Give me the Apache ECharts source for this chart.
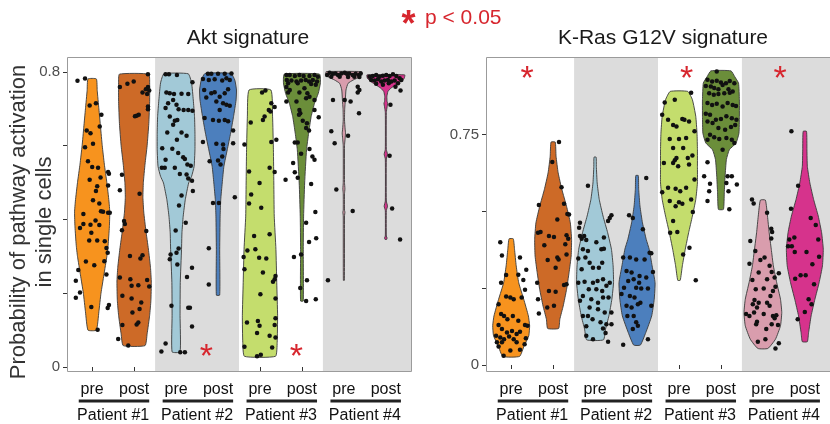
<!DOCTYPE html>
<html>
<head>
<meta charset="utf-8">
<script src="https://cdn.jsdelivr.net/npm/echarts@6/dist/echarts.min.js"></script>
<style>
  html, body { margin: 0; padding: 0; background: #fff; }
  #chart { width: 830px; height: 424px; }
</style>
</head>
<body>
<div id="chart"></div>
<script>
// ---- categories ----
const groupLabels = ['pre', 'post', 'pre', 'post', 'pre', 'post', 'pre', 'post'];
const patientLabels = ['Patient #1', 'Patient #2', 'Patient #3', 'Patient #4'];
const violinColors = ['#F7931E', '#CD6A27', '#A2C9D7', '#4C7FBD', '#C4DD6D', '#6B8E3A', '#D99DAD', '#D6338C'];
const shadedPatients = [[2.5, 4.5], [6.5, 8.6]];

// ---- Akt signature: violin outlines [probability, half width] ----
const aktShape1 = [[0.781,0.10],[0.75,0.12],[0.70,0.16],[0.65,0.20],[0.60,0.24],[0.55,0.29],[0.50,0.35],[0.45,0.40],[0.42,0.42],[0.38,0.41],[0.33,0.38],[0.30,0.35],[0.25,0.28],[0.20,0.21],[0.15,0.16],[0.10,0.10]];
const aktShape2 = [[0.794,0.35],[0.77,0.37],[0.72,0.37],[0.66,0.35],[0.60,0.31],[0.55,0.26],[0.50,0.22],[0.46,0.21],[0.42,0.23],[0.37,0.28],[0.32,0.34],[0.27,0.39],[0.23,0.41],[0.18,0.40],[0.14,0.37],[0.09,0.31],[0.058,0.26]];
const aktShape3 = [[0.795,0.29],[0.77,0.37],[0.724,0.41],[0.679,0.44],[0.634,0.45],[0.589,0.45],[0.544,0.43],[0.517,0.37],[0.499,0.30],[0.454,0.22],[0.409,0.17],[0.364,0.14],[0.319,0.13],[0.229,0.10],[0.139,0.095],[0.041,0.095]];
const aktShape4 = [[0.796,0.31],[0.778,0.40],[0.751,0.44],[0.724,0.43],[0.679,0.37],[0.634,0.30],[0.589,0.22],[0.544,0.14],[0.499,0.10],[0.454,0.065],[0.409,0.05],[0.319,0.04],[0.195,0.04]];
const aktShape5 = [[0.751,0.26],[0.68,0.30],[0.589,0.32],[0.499,0.33],[0.409,0.34],[0.319,0.38],[0.229,0.40],[0.139,0.42],[0.067,0.41],[0.029,0.37]];
const aktShape6 = [[0.794,0.42],[0.77,0.44],[0.742,0.39],[0.715,0.30],[0.679,0.22],[0.634,0.16],[0.589,0.11],[0.499,0.065],[0.409,0.04],[0.319,0.032],[0.179,0.032]];
const aktShape7 = [[0.801,0.42],[0.795,0.43],[0.787,0.38],[0.778,0.22],[0.769,0.10],[0.751,0.05],[0.724,0.035],[0.70,0.02],[0.67,0.015],[0.645,0.03],[0.634,0.04],[0.62,0.03],[0.60,0.015],[0.50,0.015],[0.483,0.025],[0.47,0.015],[0.425,0.015],[0.42,0.025],[0.41,0.015],[0.235,0.012]];
const aktShape8 = [[0.792,0.45],[0.783,0.44],[0.774,0.36],[0.765,0.24],[0.756,0.12],[0.747,0.05],[0.733,0.025],[0.72,0.03],[0.715,0.045],[0.705,0.03],[0.69,0.012],[0.59,0.012],[0.577,0.04],[0.564,0.012],[0.45,0.012],[0.436,0.04],[0.424,0.012],[0.355,0.012],[0.35,0.03],[0.346,0.02]];

// ---- Akt signature: single cells [jitter, probability] ----
const aktCells1 = [[-0.35,0.776],[-0.17,0.782],[-0.06,0.709],[0.09,0.715],[0.22,0.684],[0.18,0.652],[-0.13,0.641],[-0.04,0.634],[0.02,0.605],[-0.17,0.596],[-0.10,0.558],[0.00,0.542],[0.14,0.540],[-0.06,0.508],[0.20,0.514],[0.38,0.529],[0.40,0.524],[0.12,0.490],[0.38,0.492],[0.09,0.477],[0.02,0.452],[0.17,0.443],[-0.21,0.415],[0.21,0.422],[0.26,0.421],[0.38,0.418],[0.42,0.418],[-0.21,0.388],[-0.04,0.386],[0.08,0.397],[0.17,0.385],[-0.29,0.377],[-0.02,0.364],[-0.07,0.343],[0.12,0.343],[0.30,0.341],[0.34,0.323],[0.37,0.310],[-0.15,0.286],[0.05,0.276],[0.29,0.287],[-0.33,0.263],[0.34,0.251],[-0.39,0.234],[-0.29,0.202],[-0.39,0.188],[-0.02,0.163],[0.40,0.168],[0.37,0.160],[0.13,0.101]];
const aktCells2 = [[0.33,0.794],[-0.34,0.759],[-0.16,0.768],[-0.01,0.774],[0.33,0.759],[0.28,0.753],[0.20,0.744],[0.36,0.750],[0.31,0.740],[0.33,0.706],[0.33,0.699],[0.06,0.681],[0.11,0.684],[0.02,0.680],[-0.29,0.521],[-0.34,0.479],[0.13,0.470],[-0.24,0.396],[-0.22,0.388],[-0.29,0.371],[0.29,0.369],[-0.10,0.301],[0.15,0.294],[0.20,0.303],[-0.34,0.243],[-0.09,0.238],[0.31,0.236],[0.10,0.222],[-0.06,0.220],[0.36,0.218],[-0.28,0.193],[-0.06,0.186],[0.17,0.175],[0.13,0.157],[-0.04,0.148],[-0.28,0.114],[0.06,0.115],[0.10,0.121],[-0.38,0.076],[-0.14,0.058]];
const aktCells3 = [[-0.25,0.794],[-0.17,0.794],[0.02,0.792],[0.39,0.772],[-0.23,0.744],[-0.15,0.742],[-0.05,0.740],[0.13,0.741],[0.29,0.740],[-0.07,0.724],[-0.19,0.715],[0.01,0.711],[0.06,0.699],[0.18,0.697],[0.29,0.697],[0.39,0.695],[-0.25,0.702],[-0.15,0.679],[-0.03,0.668],[0.03,0.670],[-0.07,0.657],[-0.21,0.636],[0.13,0.636],[0.25,0.627],[0.02,0.616],[-0.33,0.593],[-0.09,0.592],[0.05,0.580],[-0.25,0.562],[0.17,0.569],[0.21,0.564],[-0.03,0.540],[-0.34,0.540],[-0.27,0.540],[0.09,0.523],[0.27,0.549],[0.35,0.546],[0.25,0.522],[0.29,0.511],[0.38,0.505],[0.40,0.477],[0.13,0.465],[0.07,0.438],[0.23,0.391],[-0.01,0.370],[0.01,0.310],[-0.13,0.305],[0.06,0.321],[-0.15,0.292],[0.03,0.278],[0.38,0.269],[0.26,0.244],[-0.11,0.166],[0.33,0.161],[0.29,0.161],[0.38,0.110],[-0.25,0.064],[-0.35,0.042],[0.10,0.040],[0.21,0.040]];
const aktCells4 = [[-0.24,0.795],[-0.16,0.795],[0.00,0.795],[0.16,0.795],[0.32,0.796],[-0.36,0.781],[-0.22,0.778],[-0.08,0.780],[0.10,0.777],[0.20,0.783],[0.28,0.778],[-0.33,0.751],[-0.28,0.731],[-0.16,0.742],[-0.08,0.745],[0.04,0.733],[0.16,0.742],[0.24,0.753],[-0.04,0.720],[0.12,0.715],[0.20,0.711],[0.28,0.708],[0.04,0.697],[-0.32,0.675],[-0.12,0.670],[0.02,0.668],[0.16,0.670],[0.24,0.666],[0.36,0.641],[-0.36,0.610],[-0.04,0.605],[0.12,0.603],[0.36,0.607],[-0.20,0.558],[0.00,0.560],[0.10,0.571],[0.13,0.591],[0.06,0.549],[-0.12,0.445],[0.02,0.445],[0.40,0.460],[-0.22,0.322],[-0.22,0.224]];
const aktCells5 = [[0.05,0.744],[0.13,0.750],[0.27,0.715],[0.35,0.705],[0.21,0.697],[0.25,0.693],[0.11,0.679],[0.07,0.670],[-0.22,0.663],[0.27,0.610],[0.39,0.616],[-0.37,0.603],[-0.26,0.530],[0.23,0.540],[0.35,0.529],[-0.01,0.499],[-0.21,0.468],[-0.26,0.443],[0.03,0.432],[-0.14,0.355],[0.23,0.360],[-0.30,0.316],[-0.11,0.319],[-0.39,0.298],[-0.02,0.296],[0.15,0.294],[-0.37,0.265],[0.07,0.256],[0.37,0.247],[0.35,0.238],[0.31,0.231],[0.01,0.197],[0.37,0.186],[-0.31,0.121],[-0.05,0.125],[-0.01,0.112],[0.35,0.114],[-0.07,0.092],[0.23,0.085],[0.37,0.080],[0.37,0.132],[-0.37,0.055],[0.29,0.053],[-0.07,0.029],[0.02,0.033]];
const aktCells6 = [[-0.37,0.792],[-0.29,0.792],[-0.17,0.789],[-0.06,0.792],[0.04,0.789],[0.18,0.789],[0.30,0.792],[0.38,0.787],[-0.36,0.778],[-0.25,0.777],[-0.13,0.774],[-0.02,0.777],[0.09,0.778],[0.17,0.774],[0.26,0.778],[0.36,0.774],[-0.33,0.769],[-0.10,0.769],[0.22,0.767],[0.33,0.765],[-0.37,0.759],[-0.29,0.751],[0.06,0.756],[0.13,0.742],[-0.06,0.744],[-0.33,0.744],[0.18,0.733],[-0.13,0.720],[0.10,0.729],[0.30,0.724],[-0.37,0.720],[-0.06,0.697],[-0.04,0.688],[-0.07,0.684],[0.30,0.697],[0.40,0.677],[0.02,0.668],[0.12,0.661],[0.17,0.641],[0.10,0.648],[-0.17,0.609],[-0.10,0.609],[0.18,0.591],[-0.02,0.578],[0.25,0.571],[0.30,0.562],[-0.21,0.553],[-0.17,0.528],[-0.39,0.508],[-0.10,0.513],[0.22,0.496],[0.32,0.420],[0.10,0.391],[0.34,0.349],[0.17,0.339],[-0.19,0.298],[-0.02,0.305],[0.12,0.235],[-0.04,0.214],[0.10,0.179],[0.33,0.184]];
const aktCells7 = [[-0.40,0.792],[-0.34,0.798],[-0.26,0.795],[-0.20,0.796],[-0.14,0.792],[-0.06,0.796],[0.02,0.798],[0.07,0.795],[0.13,0.796],[0.21,0.792],[0.28,0.795],[0.36,0.792],[0.40,0.796],[-0.30,0.787],[-0.10,0.787],[0.10,0.786],[0.25,0.787],[0.37,0.786],[0.33,0.760],[0.37,0.751],[0.33,0.744],[-0.26,0.724],[0.02,0.724],[0.16,0.720],[0.36,0.688],[-0.30,0.639],[0.10,0.627],[-0.22,0.607],[-0.18,0.481],[0.21,0.423],[-0.38,0.235]];
const aktCells8 = [[-0.39,0.787],[-0.31,0.789],[-0.23,0.792],[-0.15,0.787],[-0.07,0.790],[0.01,0.792],[0.09,0.789],[0.17,0.794],[0.25,0.789],[0.33,0.783],[0.37,0.778],[-0.35,0.778],[-0.27,0.777],[-0.19,0.780],[-0.11,0.774],[-0.03,0.777],[0.05,0.778],[0.13,0.774],[0.21,0.777],[0.29,0.769],[-0.23,0.768],[-0.07,0.765],[0.07,0.769],[0.23,0.760],[0.35,0.750],[0.11,0.711],[0.09,0.573],[0.15,0.430],[0.34,0.346]];

// ---- K-Ras G12V signature: violin outlines [probability, half width] ----
const krasShape1 = [[0.411,0.05],[0.377,0.08],[0.323,0.12],[0.268,0.18],[0.214,0.30],[0.16,0.41],[0.128,0.44],[0.095,0.42],[0.063,0.31],[0.028,0.20]];
const krasShape2 = [[0.726,0.05],[0.68,0.07],[0.626,0.12],[0.571,0.21],[0.517,0.32],[0.463,0.41],[0.409,0.44],[0.355,0.43],[0.301,0.38],[0.246,0.32],[0.192,0.24],[0.149,0.16],[0.119,0.13]];
const krasShape3 = [[0.677,0.025],[0.647,0.03],[0.593,0.05],[0.539,0.10],[0.485,0.19],[0.431,0.30],[0.377,0.39],[0.323,0.43],[0.268,0.44],[0.214,0.40],[0.16,0.33],[0.117,0.25],[0.082,0.20]];
const krasShape4 = [[0.617,0.03],[0.572,0.04],[0.518,0.07],[0.463,0.13],[0.409,0.22],[0.377,0.29],[0.323,0.36],[0.268,0.43],[0.214,0.41],[0.16,0.35],[0.106,0.21],[0.065,0.08]];
const krasShape5 = [[0.891,0.21],[0.864,0.32],[0.81,0.40],[0.755,0.43],[0.701,0.44],[0.647,0.44],[0.593,0.44],[0.539,0.40],[0.485,0.32],[0.431,0.23],[0.377,0.15],[0.323,0.08],[0.276,0.03]];
const krasShape6 = [[0.958,0.24],[0.939,0.33],[0.918,0.42],[0.864,0.44],[0.81,0.44],[0.755,0.43],[0.723,0.36],[0.701,0.20],[0.669,0.13],[0.615,0.10],[0.561,0.08],[0.507,0.06]];
const krasShape7 = [[0.537,0.06],[0.485,0.11],[0.431,0.15],[0.377,0.20],[0.323,0.25],[0.268,0.33],[0.214,0.42],[0.171,0.45],[0.128,0.42],[0.084,0.30],[0.054,0.12]];
const krasShape8 = [[0.761,0.04],[0.701,0.05],[0.647,0.06],[0.593,0.12],[0.539,0.21],[0.485,0.32],[0.431,0.40],[0.377,0.44],[0.323,0.42],[0.268,0.34],[0.214,0.24],[0.16,0.15],[0.106,0.09],[0.076,0.06]];

// ---- K-Ras G12V signature: single cells [jitter, probability] ----
const krasCells1 = [[-0.26,0.400],[-0.22,0.357],[0.21,0.350],[0.36,0.310],[-0.12,0.293],[0.17,0.294],[0.29,0.277],[-0.24,0.268],[0.33,0.245],[-0.12,0.223],[-0.02,0.220],[0.25,0.220],[0.06,0.214],[-0.30,0.198],[-0.24,0.166],[-0.17,0.160],[-0.09,0.149],[0.04,0.160],[0.17,0.144],[0.33,0.130],[0.39,0.128],[-0.30,0.130],[-0.22,0.117],[-0.10,0.106],[0.02,0.111],[0.13,0.101],[0.21,0.108],[-0.36,0.095],[-0.26,0.090],[-0.17,0.084],[-0.05,0.093],[0.06,0.084],[0.35,0.087],[-0.34,0.074],[-0.22,0.074],[0.13,0.074],[0.32,0.068],[-0.02,0.047],[-0.30,0.060],[-0.18,0.030],[0.21,0.050]];
const krasCells2 = [[0.14,0.726],[-0.02,0.661],[0.20,0.579],[-0.34,0.521],[0.26,0.525],[0.34,0.492],[0.38,0.490],[0.10,0.474],[-0.36,0.431],[-0.30,0.433],[-0.10,0.420],[0.02,0.417],[0.32,0.423],[0.36,0.411],[-0.21,0.390],[0.29,0.393],[0.10,0.350],[0.13,0.344],[-0.13,0.342],[0.06,0.317],[0.32,0.360],[-0.38,0.268],[-0.10,0.241],[0.06,0.239],[0.26,0.261],[0.32,0.263],[-0.36,0.214],[-0.14,0.187],[0.02,0.193],[-0.34,0.168]];
const krasCells3 = [[-0.17,0.584],[0.39,0.488],[0.35,0.479],[0.31,0.469],[-0.36,0.463],[-0.38,0.447],[-0.36,0.420],[-0.32,0.411],[-0.26,0.420],[-0.21,0.407],[0.03,0.400],[0.21,0.415],[-0.29,0.377],[-0.17,0.371],[-0.40,0.347],[-0.23,0.350],[0.15,0.377],[0.21,0.379],[-0.13,0.333],[0.17,0.333],[-0.05,0.317],[0.09,0.317],[-0.32,0.312],[-0.40,0.268],[-0.25,0.271],[-0.05,0.268],[0.06,0.274],[0.19,0.279],[0.35,0.268],[-0.15,0.247],[0.03,0.247],[0.17,0.241],[0.27,0.258],[-0.29,0.225],[-0.36,0.209],[-0.09,0.214],[0.07,0.203],[0.19,0.220],[0.32,0.220],[-0.13,0.187],[0.07,0.182],[0.23,0.171],[0.39,0.171],[-0.29,0.160],[-0.17,0.160],[-0.06,0.149],[0.13,0.139],[0.27,0.133],[0.39,0.133],[-0.21,0.095],[-0.05,0.084],[0.25,0.104],[0.31,0.076],[-0.21,0.126],[0.19,0.119]];
const krasCells4 = [[0.22,0.609],[0.14,0.442],[-0.19,0.488],[-0.10,0.479],[0.30,0.366],[0.34,0.364],[0.18,0.344],[-0.33,0.350],[-0.17,0.350],[-0.02,0.344],[-0.25,0.306],[-0.13,0.301],[0.06,0.290],[0.38,0.303],[0.22,0.285],[-0.21,0.274],[-0.08,0.279],[0.05,0.268],[-0.37,0.231],[-0.31,0.252],[-0.02,0.252],[0.10,0.249],[0.26,0.249],[-0.17,0.225],[-0.06,0.220],[0.08,0.203],[0.34,0.193],[-0.25,0.193],[-0.13,0.187],[0.02,0.198],[-0.23,0.160],[-0.08,0.160],[-0.02,0.139],[0.02,0.128],[-0.10,0.117],[0.26,0.084],[-0.33,0.066]];
const krasCells5 = [[0.29,0.887],[-0.34,0.855],[-0.10,0.864],[-0.40,0.815],[-0.26,0.799],[-0.14,0.782],[-0.06,0.777],[0.08,0.801],[0.13,0.799],[0.24,0.793],[0.37,0.761],[-0.22,0.736],[0.00,0.736],[0.17,0.739],[-0.14,0.707],[0.10,0.707],[0.32,0.682],[0.21,0.674],[-0.06,0.674],[-0.10,0.667],[-0.14,0.658],[-0.36,0.658],[-0.02,0.647],[0.24,0.653],[0.37,0.604],[-0.26,0.577],[-0.08,0.574],[0.03,0.566],[0.17,0.577],[-0.40,0.563],[-0.22,0.534],[0.00,0.530],[0.08,0.525],[-0.08,0.517],[0.29,0.539],[0.33,0.498],[-0.14,0.469],[-0.21,0.431],[-0.04,0.433],[0.25,0.382],[0.10,0.360],[0.40,0.276]];
const krasCells6 = [[-0.10,0.956],[-0.32,0.929],[-0.21,0.923],[-0.10,0.926],[0.00,0.920],[0.12,0.918],[0.21,0.925],[0.32,0.918],[-0.36,0.909],[-0.24,0.907],[-0.16,0.902],[-0.06,0.898],[0.04,0.912],[0.18,0.898],[0.28,0.891],[-0.28,0.885],[-0.17,0.880],[-0.06,0.883],[0.08,0.885],[0.21,0.887],[-0.32,0.853],[-0.21,0.847],[-0.10,0.851],[0.04,0.842],[0.16,0.853],[0.28,0.847],[0.36,0.844],[-0.36,0.818],[-0.26,0.815],[-0.12,0.799],[0.00,0.801],[0.13,0.810],[0.26,0.804],[0.37,0.799],[-0.32,0.793],[-0.20,0.788],[-0.06,0.772],[0.10,0.766],[0.24,0.775],[0.34,0.782],[-0.26,0.750],[-0.16,0.742],[-0.04,0.736],[0.13,0.739],[0.26,0.734],[0.32,0.723],[-0.32,0.734],[0.04,0.701],[-0.32,0.660],[-0.40,0.615],[-0.26,0.590],[-0.28,0.566],[-0.32,0.534],[0.16,0.615],[0.26,0.615],[0.13,0.593],[0.38,0.588],[0.20,0.507],[0.18,0.566]];
const krasCells7 = [[-0.26,0.539],[-0.22,0.526],[0.10,0.496],[0.20,0.444],[0.22,0.433],[0.20,0.412],[-0.30,0.404],[-0.18,0.371],[0.04,0.350],[-0.06,0.342],[0.16,0.323],[-0.32,0.330],[0.21,0.303],[0.38,0.299],[-0.10,0.301],[0.28,0.285],[0.10,0.279],[-0.25,0.277],[0.30,0.255],[-0.17,0.247],[0.02,0.249],[0.24,0.241],[0.18,0.225],[-0.20,0.212],[-0.10,0.203],[-0.24,0.198],[-0.14,0.187],[0.10,0.203],[0.16,0.193],[-0.40,0.166],[-0.32,0.160],[-0.21,0.171],[0.02,0.166],[0.24,0.160],[0.32,0.162],[0.28,0.152],[-0.14,0.141],[-0.16,0.133],[0.21,0.133],[0.36,0.130],[0.08,0.117],[-0.12,0.076],[0.06,0.084],[0.30,0.054],[0.38,0.071]];
const krasCells8 = [[-0.32,0.761],[-0.16,0.584],[-0.33,0.509],[0.14,0.479],[0.26,0.456],[-0.37,0.409],[-0.25,0.415],[0.32,0.409],[-0.40,0.387],[-0.31,0.387],[0.04,0.368],[-0.24,0.368],[0.34,0.353],[0.18,0.328],[-0.10,0.292],[-0.23,0.281],[0.02,0.292],[0.22,0.263],[0.09,0.214],[0.16,0.198],[0.00,0.173],[-0.17,0.149]];

// ---- significance marks [position, probability] ----
const aktStars = [[3.72, 0.046], [5.87, 0.046]];
const krasStars = [[1.38, 0.955], [5.18, 0.955], [7.41, 0.955]];

const aktShapes = [aktShape1, aktShape2, aktShape3, aktShape4, aktShape5, aktShape6, aktShape7, aktShape8];
const aktCells = [aktCells1, aktCells2, aktCells3, aktCells4, aktCells5, aktCells6, aktCells7, aktCells8];
const krasShapes = [krasShape1, krasShape2, krasShape3, krasShape4, krasShape5, krasShape6, krasShape7, krasShape8];
const krasCells = [krasCells1, krasCells2, krasCells3, krasCells4, krasCells5, krasCells6, krasCells7, krasCells8];

const FONT = '"Liberation Sans", Arial, Helvetica, sans-serif';
const RED = '#D7262E';
const positions = [1, 2, 3, 4, 5, 6, 7, 8];

function xAxes(gridIndex) {
  return [{
    type: 'value', gridIndex, min: 0.4, max: 8.6,
    axisLine: { show: false }, splitLine: { show: false },
    axisTick: { show: true, length: 4, customValues: positions, lineStyle: { color: '#333', width: 1 } },
    axisLabel: {
      customValues: positions, margin: 11, color: '#111', fontSize: 16, fontFamily: FONT,
      formatter: v => groupLabels[Math.round(v) - 1]
    }
  }, {
    type: 'value', gridIndex, min: 0.4, max: 8.6, position: 'bottom', offset: 26,
    axisLine: { show: false }, splitLine: { show: false }, axisTick: { show: false },
    axisLabel: {
      customValues: [1.5, 3.5, 5.5, 7.5], margin: 11, color: '#111', fontSize: 16, fontFamily: FONT,
      formatter: v => patientLabels[Math.round((v - 1.5) / 2)]
    }
  }];
}

function yAxis(gridIndex, min, max, ticks, labels) {
  return {
    type: 'value', gridIndex, min, max,
    axisLine: { show: false }, splitLine: { show: false },
    axisTick: { show: true, length: 4, customValues: ticks, lineStyle: { color: '#333', width: 1 } },
    axisLabel: {
      customValues: labels, margin: 7, color: '#4D4D4D', fontSize: 15, fontFamily: FONT,
      formatter: v => (v === 0 ? '0' : String(v))
    }
  };
}

function panelSeries(axisIndex, shapes, cells, stars) {
  const axes = { xAxisIndex: axisIndex * 2, yAxisIndex: axisIndex };
  return [
    // shaded patient bands
    Object.assign({
      type: 'custom', z: 1, silent: true,
      data: shadedPatients,
      renderItem(params, api) {
        const cs = params.coordSys;
        const x0 = api.coord([api.value(0), 0])[0];
        const x1 = api.coord([api.value(1), 0])[0];
        return { type: 'rect', shape: { x: x0, y: cs.y, width: x1 - x0, height: cs.height }, style: { fill: '#DCDCDC' } };
      }
    }, axes),
    // panel frame
    Object.assign({
      type: 'custom', z: 2, silent: true,
      data: [[1, 0]],
      renderItem(params) {
        const cs = params.coordSys;
        return { type: 'rect', shape: { x: cs.x + 0.5, y: cs.y + 0.5, width: cs.width, height: cs.height },
                 style: { fill: 'none', stroke: '#9B9B9B', lineWidth: 1 } };
      }
    }, axes),
    // violins
    Object.assign({
      type: 'custom', z: 3, silent: true,
      data: positions.map(p => [p, 0]),
      renderItem(params, api) {
        const u = api.value(0);
        const shape = shapes[params.dataIndex];
        const right = shape.map(([v, hw]) => api.coord([u + hw, v]));
        const left = shape.slice().reverse().map(([v, hw]) => api.coord([u - hw, v]));
        return {
          type: 'polygon',
          shape: { points: right.concat(left), smooth: 0.15 },
          style: { fill: violinColors[params.dataIndex], stroke: '#3A3A3A', lineWidth: 0.9 }
        };
      }
    }, axes),
    // single cells
    Object.assign({
      type: 'scatter', z: 4, silent: true, symbol: 'circle', symbolSize: 4.5,
      itemStyle: { color: '#111', opacity: 1 },
      data: cells.flatMap((list, i) => list.map(([dx, v]) => [positions[i] + dx, v]))
    }, axes),
    // pre/post underlines
    Object.assign({
      type: 'custom', z: 4, silent: true, clip: false,
      data: patientLabels.map((_, i) => [2 * i + 1 - 0.32, 2 * i + 2 + 0.36]),
      renderItem(params, api) {
        const cs = params.coordSys;
        const y = cs.y + cs.height + 30;
        const x0 = api.coord([api.value(0), 0])[0];
        const x1 = api.coord([api.value(1), 0])[0];
        return { type: 'line', shape: { x1: x0, y1: y, x2: x1, y2: y }, style: { stroke: '#222', lineWidth: 3 } };
      }
    }, axes),
    // significance asterisks
    Object.assign({
      type: 'custom', z: 5, silent: true, clip: false,
      data: stars,
      renderItem(params, api) {
        const p = api.coord([api.value(0), api.value(1)]);
        return { type: 'text', x: p[0], y: p[1] + 8,
                 style: { text: '*', fill: RED, font: '34px ' + FONT, align: 'center', verticalAlign: 'middle' } };
      }
    }, axes)
  ];
}

const chart = echarts.init(document.getElementById('chart'), null, { renderer: 'canvas' });
chart.setOption({
  animation: false,
  backgroundColor: '#ffffff',
  grid: [
    { left: 67, top: 57, width: 344, height: 315, containLabel: false },
    { left: 486, top: 57, width: 345, height: 315, containLabel: false }
  ],
  xAxis: [...xAxes(0), ...xAxes(1)],
  yAxis: [
    yAxis(0, -0.0108, 0.8405, [0, 0.2, 0.4, 0.6, 0.8], [0, 0.8]),
    yAxis(1, -0.0195, 1.0032, [0, 0.25, 0.5, 0.75], [0, 0.75])
  ],
  graphic: [
    { type: 'text', x: 248, y: 38, style: { text: 'Akt signature', font: '21px ' + FONT, fill: '#1A1A1A', align: 'center', verticalAlign: 'middle' } },
    { type: 'text', x: 663, y: 38, style: { text: 'K-Ras G12V signature', font: '21px ' + FONT, fill: '#1A1A1A', align: 'center', verticalAlign: 'middle' } },
    { type: 'text', x: 408.5, y: 26, style: { text: '*', font: 'bold 36px ' + FONT, fill: RED, align: 'center', verticalAlign: 'middle' } },
    { type: 'text', x: 425, y: 18, style: { text: 'p < 0.05', font: '21px ' + FONT, fill: RED, align: 'left', verticalAlign: 'middle' } },
    { type: 'text', x: 32, y: 222, rotation: Math.PI / 2,
      style: { text: 'Probability of pathway activation\nin single cells', font: '22px ' + FONT, lineHeight: 26,
               fill: '#333', align: 'center', verticalAlign: 'middle' } }
  ],
  series: [
    ...panelSeries(0, aktShapes, aktCells, aktStars),
    ...panelSeries(1, krasShapes, krasCells, krasStars)
  ]
});
</script>
</body>
</html>
